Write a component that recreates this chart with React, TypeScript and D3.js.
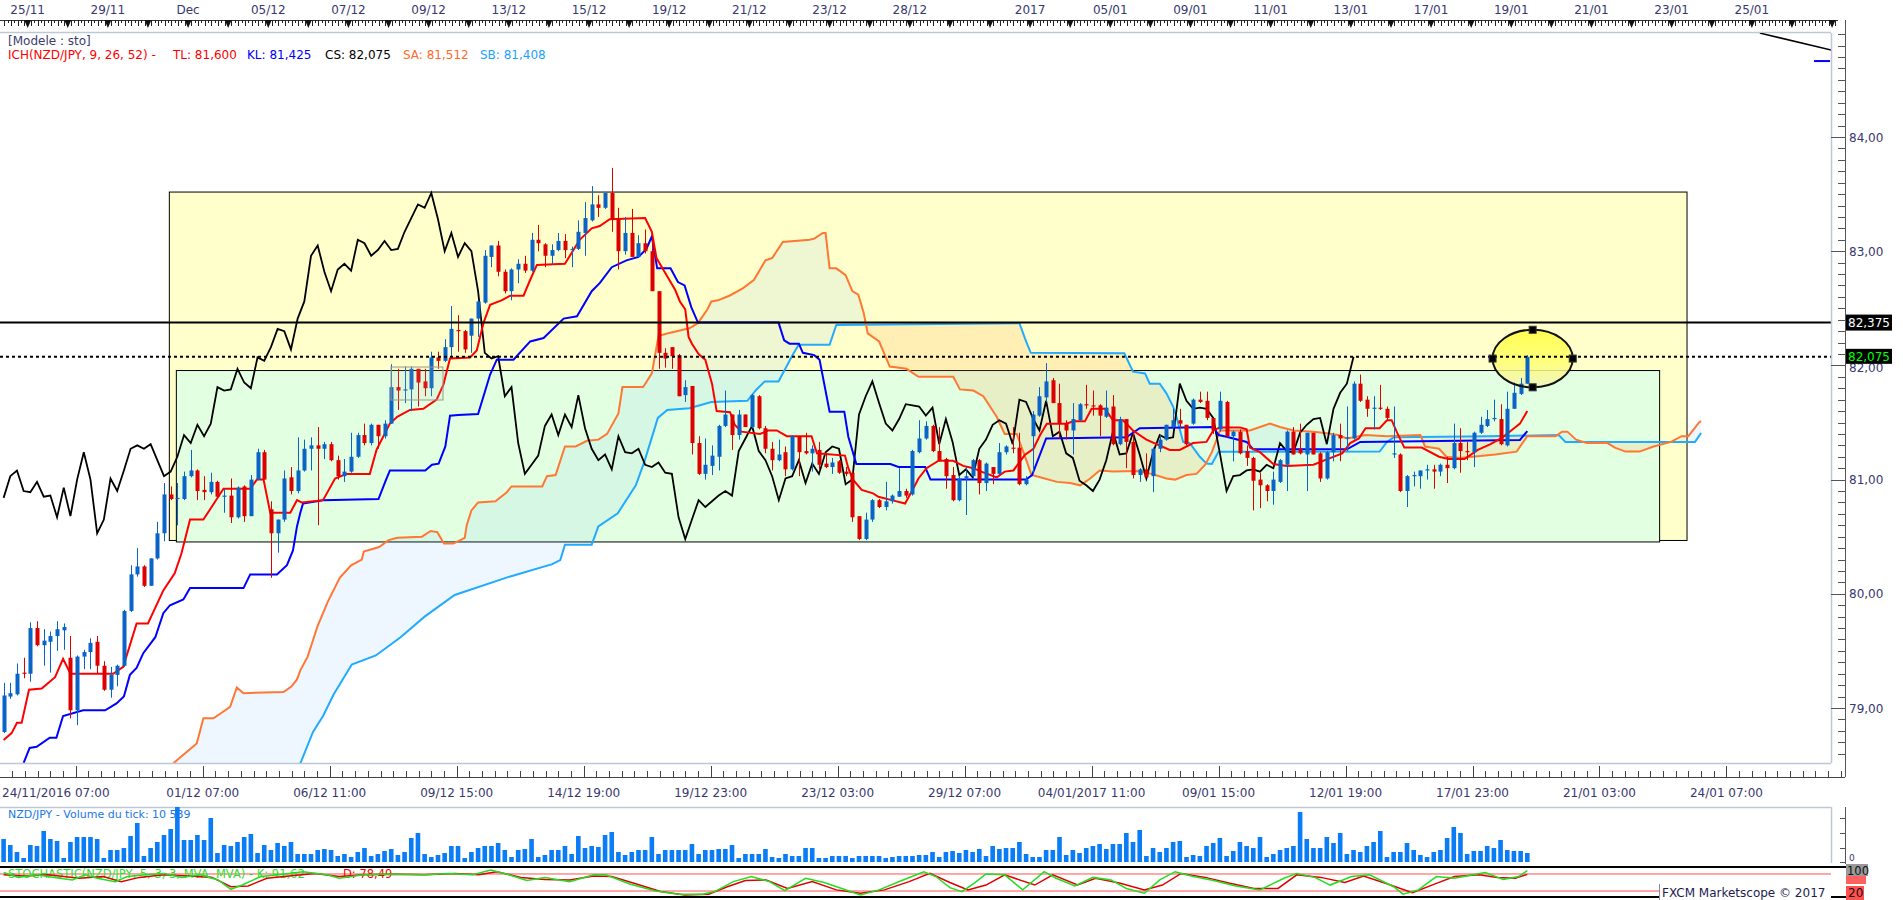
import React from "react";
import * as d3 from "d3";

// ---------- candle data (NZD/JPY, 4H) ----------
const opens = [
  78.79,79.10,79.12,79.31,79.30,79.70,79.55,79.58,79.63,79.68,
  79.44,78.98,79.45,79.49,79.58,79.37,79.16,79.29,79.37,79.85,
  80.17,80.24,80.07,80.31,80.53,80.87,80.83,80.83,81.03,81.08,
  80.91,80.89,80.98,80.85,80.86,80.67,80.94,80.68,81.00,81.24,
  80.74,80.53,80.65,81.02,80.90,81.08,81.27,81.30,81.27,81.31,
  81.17,81.03,81.07,81.20,81.39,81.32,81.48,81.38,81.49,81.81,
  81.78,81.79,81.97,81.86,81.80,82.07,82.04,82.16,82.31,82.30,
  82.26,82.41,82.55,82.95,83.05,82.82,82.65,82.84,82.89,82.83,
  83.10,83.06,82.96,83.01,83.09,83.01,83.02,83.16,83.27,83.41,
  83.38,83.51,83.28,83.00,83.16,82.95,83.07,83.00,82.65,82.11,
  82.16,82.09,81.74,81.82,81.32,81.05,81.12,81.20,81.47,81.57,
  81.39,81.57,81.46,81.73,81.45,81.27,81.17,81.24,81.09,81.38,
  81.25,81.23,81.26,81.14,81.11,81.16,81.07,81.06,80.68,80.48,
  80.65,80.82,80.76,80.81,80.85,80.90,80.87,81.24,81.36,81.47,
  81.25,81.18,81.04,80.82,81.01,81.03,81.17,80.97,81.11,81.05,
  81.24,81.28,81.28,80.96,81.38,81.56,81.72,81.87,81.67,81.49,
  81.43,81.52,81.66,81.65,81.65,81.55,81.64,81.31,81.53,81.33,
  81.04,81.09,81.03,81.27,81.35,81.46,81.52,81.48,81.49,81.70,
  81.69,81.54,81.44,81.68,81.38,81.42,81.25,81.19,81.00,80.95,
  80.90,80.98,81.13,81.42,81.27,81.22,81.41,81.23,81.01,81.24,
  81.39,81.36,81.36,81.84,81.70,81.62,81.63,81.62,81.22,81.22,
  80.90,81.03,81.03,81.08,81.09,81.07,81.13,81.10,81.32,81.25,
  81.24,81.41,81.47,81.53,81.53,81.30,81.62,81.75,81.84
];
const highs = [
  79.22,79.22,79.39,79.44,79.75,79.76,79.69,79.67,79.76,79.74,
  79.63,79.46,79.51,79.61,79.63,79.41,79.36,79.38,79.86,80.25,
  80.40,80.25,80.31,80.63,80.97,80.94,80.97,81.07,81.26,81.09,
  81.03,81.06,80.99,80.92,81.01,80.94,80.95,81.04,81.27,81.26,
  80.81,80.65,81.08,81.11,81.37,81.35,81.37,81.46,81.33,81.33,
  81.21,81.18,81.41,81.41,81.49,81.49,81.48,81.52,82.01,81.97,
  81.99,81.99,81.97,81.97,82.12,82.12,82.23,82.52,82.44,82.31,
  82.41,82.56,83.01,83.05,83.09,82.84,82.85,82.93,82.96,83.16,
  83.23,83.07,83.06,83.16,83.15,83.04,83.27,83.43,83.57,83.49,
  83.51,83.73,83.38,83.30,83.37,83.14,83.19,83.13,82.65,82.15,
  82.16,82.10,81.87,81.82,81.38,81.36,81.30,81.48,81.78,81.57,
  81.61,81.57,81.75,81.74,81.47,81.33,81.35,81.29,81.39,81.38,
  81.41,81.30,81.33,81.23,81.19,81.17,81.11,81.07,80.68,80.71,
  80.83,80.83,80.98,80.87,81.10,80.92,81.26,81.52,81.51,81.48,
  81.46,81.19,81.11,81.03,81.11,81.18,81.18,81.15,81.11,81.32,
  81.30,81.46,81.41,81.03,81.60,81.81,82.02,81.89,81.84,81.52,
  81.67,81.67,81.83,81.78,81.66,81.78,81.74,81.55,81.53,81.41,
  81.10,81.23,81.28,81.39,81.48,81.62,81.62,81.48,81.71,81.77,
  81.77,81.54,81.77,81.69,81.43,81.44,81.30,81.20,81.06,80.96,
  81.07,81.18,81.43,81.46,81.49,81.41,81.41,81.24,81.25,81.41,
  81.49,81.64,81.86,81.92,81.73,81.73,81.83,81.64,81.64,81.23,
  81.04,81.07,81.08,81.13,81.13,81.14,81.20,81.49,81.45,81.33,
  81.42,81.55,81.61,81.70,81.66,81.77,81.85,81.89,82.09
];
const lows = [
  78.78,79.08,79.11,79.26,79.23,79.54,79.37,79.31,79.50,79.51,
  78.91,78.85,79.34,79.34,79.30,79.15,79.09,79.19,79.36,79.84,
  80.15,80.06,80.07,80.30,80.46,80.82,80.60,80.82,81.02,80.82,
  80.82,80.87,80.84,80.71,80.62,80.66,80.63,80.68,81.00,81.00,
  80.14,80.36,80.63,80.87,80.88,81.07,81.08,80.60,81.18,81.16,
  81.00,80.98,81.06,81.19,81.30,81.30,81.27,81.36,81.49,81.61,
  81.67,81.60,81.64,81.73,81.73,81.97,82.03,82.08,82.12,82.11,
  82.11,82.25,82.54,82.86,82.78,82.63,82.57,82.72,82.81,82.82,
  83.00,82.86,82.88,83.00,82.94,82.86,83.01,82.96,83.26,83.30,
  83.37,83.17,82.84,82.97,82.95,82.95,82.98,82.65,81.97,81.98,
  81.97,81.73,81.68,81.22,81.04,81.00,81.04,81.08,81.46,81.26,
  81.35,81.46,81.45,81.44,81.23,81.08,81.16,81.03,81.08,81.03,
  81.22,81.07,81.08,81.10,81.05,81.05,81.03,80.63,80.47,80.47,
  80.63,80.75,80.73,80.79,80.85,80.84,80.86,81.23,81.35,81.24,
  81.16,80.92,80.81,80.81,80.69,81.00,80.87,80.90,80.96,81.04,
  81.22,81.23,80.95,80.95,81.06,81.55,81.68,81.67,81.36,81.35,
  81.22,81.51,81.62,81.56,81.38,81.54,81.30,81.30,81.10,81.01,
  80.98,81.02,80.89,81.24,81.34,81.45,81.45,81.30,81.48,81.67,
  81.52,81.40,81.42,81.37,81.16,81.22,81.12,80.73,80.75,80.81,
  80.78,80.97,80.90,81.22,81.22,80.90,81.22,80.98,81.00,81.16,
  81.16,81.25,81.35,81.68,81.55,81.44,81.61,81.52,81.19,80.89,
  80.76,80.94,80.92,81.00,80.92,81.03,80.97,81.09,81.06,81.17,
  81.11,81.40,81.46,81.51,81.30,81.29,81.62,81.74,81.84
];
const closes = [
  79.11,79.13,79.30,79.30,79.70,79.55,79.59,79.63,79.69,79.71,
  78.98,79.45,79.49,79.57,79.37,79.16,79.29,79.37,79.85,80.17,
  80.24,80.07,80.31,80.53,80.87,80.83,80.84,81.03,81.08,80.90,
  80.89,80.98,80.85,80.86,80.67,80.93,80.68,81.00,81.24,81.00,
  80.53,80.65,81.01,80.90,81.08,81.27,81.30,81.27,81.31,81.17,
  81.03,81.07,81.20,81.39,81.32,81.48,81.38,81.49,81.81,81.78,
  81.79,81.97,81.85,81.80,82.07,82.04,82.16,82.32,82.30,82.14,
  82.41,82.56,82.96,83.05,82.82,82.65,82.84,82.89,82.83,83.10,
  83.07,82.96,83.01,83.09,83.01,83.02,83.17,83.29,83.41,83.38,
  83.51,83.28,83.00,83.16,82.95,83.07,83.00,82.65,82.11,82.06,
  82.08,81.73,81.81,81.32,81.05,81.13,81.21,81.47,81.57,81.39,
  81.57,81.46,81.74,81.45,81.27,81.17,81.22,81.09,81.38,81.24,
  81.23,81.27,81.13,81.11,81.15,81.06,81.05,80.67,80.48,80.65,
  80.82,80.76,80.81,80.86,80.90,80.86,81.25,81.36,81.47,81.25,
  81.17,81.03,80.82,81.01,81.03,81.17,80.97,81.14,81.05,81.24,
  81.29,81.27,80.96,81.00,81.57,81.73,81.86,81.67,81.49,81.43,
  81.53,81.66,81.65,81.64,81.56,81.63,81.31,81.53,81.33,81.04,
  81.09,81.02,81.27,81.35,81.48,81.52,81.49,81.31,81.70,81.68,
  81.54,81.43,81.69,81.38,81.42,81.23,81.19,80.99,80.95,80.90,
  81.00,81.17,81.42,81.22,81.23,81.41,81.22,81.01,81.24,81.39,
  81.36,81.37,81.84,81.69,81.62,81.63,81.62,81.54,81.23,80.90,
  81.03,81.04,81.08,81.09,81.07,81.13,81.10,81.32,81.25,81.24,
  81.41,81.48,81.53,81.54,81.31,81.62,81.76,81.84,82.075
];
const volumes = [
  23,17,10,4,17,16,31,23,21,4,
  20,25,25,25,23,4,12,12,14,26,
  39,6,14,20,27,33,58,22,22,27,
  22,44,9,17,16,20,25,28,9,17,
  12,19,16,20,8,8,8,12,13,12,
  6,8,5,10,14,6,8,11,13,7,
  10,24,29,8,5,7,9,16,16,4,
  10,14,16,16,19,12,5,12,13,23,
  5,7,12,12,16,8,26,14,16,15,
  27,30,10,7,10,12,12,25,8,12,
  12,12,12,18,8,12,12,13,13,17,
  4,8,8,8,13,5,4,8,6,6,
  14,14,4,4,6,6,6,4,6,6,
  6,6,4,5,6,6,6,7,7,10,
  5,10,11,9,12,10,13,6,16,13,
  14,14,20,8,5,5,12,12,25,7,
  12,9,14,16,18,13,18,18,29,20,
  32,6,14,10,14,20,21,5,7,6,
  16,19,24,6,11,20,16,14,25,5,
  8,12,14,16,50,23,14,14,25,19,
  29,8,12,10,16,20,31,5,10,10,
  19,12,7,5,10,12,24,35,29,8,
  11,11,16,14,22,12,11,11,9
];

// ---------- Ichimoku lines: vertices [candle index, price] ----------
const tenkanPts = [
  [0,78.72],[1.2,78.78],[2,78.87],[2.7,78.87],[3.8,79.16],[5.7,79.17],[7.7,79.27],[8.9,79.43],[10,79.30],[16.4,79.30],
  [17.9,79.36],[19.9,79.74],[21.6,79.74],[23.9,80.03],[25.6,80.18],[26.6,80.35],[27.9,80.65],[29.9,80.65],[31.9,80.83],[32.9,80.92],
  [36.9,80.92],[37.9,81.0],[38.9,81.0],[39.9,80.71],[42.9,80.71],[43.9,80.82],[44.6,80.80],[47.8,80.82],[49.6,81.01],[51.3,81.05],
  [54.8,81.05],[55.8,81.26],[57.8,81.49],[58.9,81.55],[60.8,81.61],[62.8,81.62],[64.8,81.70],[65.8,81.83],[66.8,82.06],[69.8,82.07],
  [70.8,82.13],[71.8,82.37],[72.8,82.53],[74.5,82.57],[75.8,82.61],[77.8,82.61],[78.8,82.75],[79.8,82.88],[84,82.89],[86.2,83.10],
  [88,83.20],[89.2,83.22],[90.7,83.28],[96,83.29],[97,83.17],[97.7,82.94],[98.7,82.84],[100.5,82.66],[101.2,82.56],[102,82.49],
  [102.5,82.25],[103,82.19],[104,82.10],[105,82.05],[106,81.84],[106.7,81.60],[108.7,81.59],[109.4,81.48],[110.4,81.42],[113.2,81.40],
  [114.4,81.43],[115.7,81.43],[117.2,81.38],[120.9,81.38],[121.7,81.23],[125.9,81.21],[126.4,81.10],[127.1,81.0],[128.4,80.91],[130.1,80.88],
  [130.9,80.85],[132.9,80.82],[134.9,80.79],[136.1,80.92],[136.9,81.01],[138.1,81.10],[139.9,81.165],[142.1,81.165],[143.6,81.12],[145.1,81.10],
  [146.3,81.07],[148.6,81.02],[149.8,81.07],[151.1,81.08],[152.8,81.215],[154.1,81.27],[155.1,81.39],[156.1,81.49],[159,81.49],[160.1,81.51],
  [161.8,81.51],[162.8,81.62],[164.8,81.62],[166,81.52],[167.5,81.52],[169,81.43],[171,81.35],[174.5,81.26],[176,81.26],[178,81.32],
  [180,81.33],[181,81.43],[182,81.457],[185,81.457],[186,81.44],[186.5,81.28],[188,81.24],[190,81.136],[192,81.12],[196,81.13],
  [198,81.177],[200.3,81.23],[201.5,81.32],[202.8,81.36],[203.8,81.45],[205.9,81.45],[207,81.52],[207.7,81.52],[208.6,81.40],[209.6,81.28],
  [212.2,81.28],[214.8,81.20],[216.2,81.18],[218.6,81.18],[220.6,81.26],[222.5,81.31],[224.3,81.37],[225.6,81.43],[226.9,81.49],[228,81.60]
];
const kijunPts = [
  [3,78.52],[3.9,78.65],[4.95,78.66],[6.9,78.74],[7.9,78.74],[8.9,78.93],[11.9,78.98],[15.2,78.98],[16.9,79.04],[18,79.10],
  [18.9,79.29],[19.9,79.35],[20.9,79.48],[22.7,79.62],[23.9,79.83],[24.9,79.90],[26.9,79.95],[27.9,80.05],[35.9,80.05],[36.9,80.17],
  [40.9,80.17],[42.4,80.25],[43.3,80.38],[43.9,80.59],[44.4,80.71],[44.8,80.79],[47.8,80.82],[56.1,80.83],[57.1,80.98],[57.8,81.08],
  [63.1,81.08],[64.1,81.13],[65.1,81.14],[66.1,81.29],[66.8,81.56],[68,81.565],[71,81.575],[72.8,81.92],[73.8,82.05],[76.3,82.05],
  [78.8,82.21],[80.8,82.24],[83.8,82.41],[85.8,82.43],[88,82.65],[89.2,82.72],[91,82.86],[93.2,82.92],[95,82.95],[96.2,83.02],
  [97,83.13],[97.8,82.85],[99.8,82.85],[100.9,82.73],[101.9,82.70],[102.9,82.51],[103.9,82.375],[115.96,82.375],[116.8,82.22],[117.6,82.19],
  [119,82.19],[119.6,82.11],[121.3,82.09],[122.1,82.05],[123.6,81.595],[125.8,81.595],[126.4,81.375],[127.6,81.137],[132.7,81.137],[133.9,81.11],
  [137.9,81.11],[138.7,81.0],[153,81.0],[153.9,81.04],[156,81.36],[168,81.37],[170,81.45],[181,81.46],[181.8,81.39],[183,81.375],
  [186,81.33],[187,81.265],[201,81.265],[203,81.33],[226.9,81.347],[228,81.425]
];
const senkouAPts = [
  [25.4,78.516],[26.9,78.59],[28.9,78.69],[29.9,78.91],[31.4,78.91],[32.4,78.95],[33.9,79.01],[34.9,79.18],[35.9,79.13],[41.9,79.14],
  [43.1,79.19],[43.9,79.25],[44.4,79.33],[45.5,79.45],[47,79.72],[48.5,79.93],[50.3,80.14],[52,80.25],[53.6,80.30],[53.9,80.37],
  [56.2,80.41],[57.6,80.47],[58.9,80.49],[62.6,80.50],[63.9,80.55],[64.9,80.54],[65.9,80.44],[67.3,80.44],[69,80.49],[69.3,80.60],
  [70,80.73],[71,80.80],[73.6,80.81],[75.3,80.89],[76,80.94],[80.6,80.94],[81.3,81.03],[82.6,81.04],[84,81.29],[85.6,81.29],
  [87.3,81.34],[89,81.35],[90.3,81.40],[92,81.58],[92.6,81.81],[95.7,81.81],[97,81.93],[98,82.26],[99.3,82.28],[102.6,82.325],
  [103.9,82.37],[105.3,82.49],[105.9,82.56],[106.9,82.57],[108.6,82.61],[110.6,82.675],[112.3,82.75],[114,82.92],[115,82.94],[116.6,83.08],
  [120.6,83.10],[121.3,83.11],[122.6,83.16],[123,83.16],[123.6,82.85],[124.6,82.85],[126,82.79],[127,82.65],[127.9,82.62],[128.7,82.46],
  [129.3,82.28],[131,82.21],[132.6,81.99],[135.1,81.97],[136.9,81.90],[142.1,81.90],[143.1,81.79],[145.1,81.78],[146.6,81.73],[148.6,81.55],
  [149.8,81.40],[151.6,81.40],[153.1,81.16],[153.8,81.04],[155.1,81.02],[157.6,80.98],[159.6,80.97],[161.1,80.95],[162.6,81.01],[164,81.08],
  [166,81.07],[169.5,81.075],[171.8,81.05],[174,81.01],[175.3,81.0],[177,81.04],[178.5,81.05],[179.8,81.13],[180.8,81.24],[181.5,81.35],
  [182,81.43],[186.5,81.43],[188,81.46],[189.5,81.49],[191,81.46],[193,81.43],[196,81.42],[198,81.405],[199.7,81.39],[201,81.36],
  [203.8,81.39],[207,81.38],[212,81.39],[212.7,81.29],[214.8,81.27],[215.9,81.20],[218,81.19],[223.2,81.22],[226.4,81.245],[228,81.38],
  [232.2,81.38],[233.2,81.42],[234,81.42],[235.3,81.35],[236.9,81.32],[240,81.32],[241.1,81.28],[242.7,81.245],[244.8,81.245],[246.9,81.29],
  [249.5,81.33],[251.1,81.38],[252.1,81.38],[253.7,81.50],[254,81.512]
];
const senkouBPts = [
  [44.3,78.50],[46.3,78.79],[47.8,78.93],[49.4,79.12],[52.1,79.38],[55.7,79.46],[59.4,79.62],[63,79.80],[67.5,79.99],[75.7,80.15],
  [82.1,80.26],[83.3,80.295],[84,80.43],[88,80.43],[89,80.59],[91.9,80.705],[94.6,80.95],[95.9,81.16],[97.9,81.54],[99.3,81.61],
  [102.6,81.625],[105.9,81.68],[111.3,81.69],[112.6,81.785],[113.9,81.86],[115.96,81.86],[117.96,82.08],[118.97,82.18],[123.6,82.18],[124.6,82.354],
  [152,82.37],[153,82.21],[153.7,82.11],[167.7,82.106],[169,81.945],[170.8,81.93],[171.5,81.84],[173,81.84],[174,81.755],[175,81.64],
  [175.5,81.55],[176.5,81.33],[177.5,81.32],[179,81.20],[180,81.14],[180.8,81.136],[181.8,81.244],[205.9,81.245],[207,81.33],[208,81.37],
  [222.2,81.38],[232.7,81.39],[233.7,81.33],[253.1,81.33],[254,81.408]
];

// ---------- Stochastic (5,3,3) vertices [index, value] ----------
const stochK = [
  [0,85],[2.2,68],[4.9,77],[7.6,68],[10.3,59],[12.2,77],[14,65],[16.7,53],[18.5,71],[21.2,77],[24,82],[26.7,68],[29.4,77],[32.1,59],
  [34,26],[35.7,41],[38.5,71],[41.2,77],[44.8,88],[48.4,77],[50.2,65],[53.9,77],[57.5,80],[63,77],[66.5,82],[70.2,77],[72.9,94],
  [75.6,77],[78.3,57],[81,68],[84.7,53],[88.3,77],[90.1,77],[93.7,45],[97.4,21],[101,9],[104.6,9],[106.4,18],[109.2,53],[111.9,71],
  [114.6,53],[116.9,21],[120,65],[122.8,50],[126.4,21],[128.2,6],[131,24],[134.6,59],[137.7,88],[139.5,71],[141.6,32],[143.4,18],
  [145.2,47],[147,80],[149.8,77],[152.5,24],[155.7,88],[157.5,65],[160.3,38],[163,68],[165.7,59],[168,29],[170.7,12],[173,59],
  [175.3,88],[178,71],[180.7,59],[184.4,38],[188,24],[191.6,65],[193.5,82],[196.2,68],[198.5,41],[201.7,71],[204.4,77],[208,35],
  [209.4,9],[211.7,24],[214.4,71],[217.1,65],[219.9,77],[221.7,85],[224.4,61],[226.7,71],[228,91.62]
];
const stochD = [
  [0,77],[3.1,73],[6.7,77],[11.3,65],[14.9,71],[17.6,53],[20.3,68],[24,77],[27.6,73],[31.2,68],[34,35],[36.6,38],[39.4,65],[43,74],
  [46.6,82],[50.2,71],[53.9,77],[58.4,79],[63,77],[67.5,82],[71.1,77],[73.8,88],[77.4,68],[81,61],[84.7,59],[88.3,73],[91,71],
  [94.7,45],[98.3,18],[101.9,6],[105.5,9],[108.3,35],[111,57],[114.1,59],[117.3,29],[121,53],[124.6,24],[128.2,12],[131.8,24],
  [135.5,53],[138.6,82],[141.6,50],[144.3,24],[147,41],[149.8,77],[154.3,41],[157,77],[160.7,41],[163.4,65],[167.1,47],[170.7,24],
  [173.4,41],[176.2,82],[179.8,68],[183.5,47],[187.1,29],[190.7,29],[193.5,77],[197.1,68],[200.7,50],[203.5,73],[207.1,45],[210.8,14],
  [214.4,47],[217.1,71],[220.8,77],[223.5,68],[226.2,65],[228,78.49]
];

// ---------- axis labels ----------
const topDayIdx = [0,2,4,6,8,10,12,14,16,18,20,22,25,27,29,31,33,35,37,39,41,43];
const topLabels = ["25/11","29/11","Dec","05/12","07/12","09/12","13/12","15/12","19/12","21/12","23/12","28/12","2017","05/01","09/01","11/01","13/01","17/01","19/01","21/01","23/01","25/01"];
const bottomLabels = ["01/12 07:00","06/12 11:00","09/12 15:00","14/12 19:00","19/12 23:00","23/12 03:00","29/12 07:00","04/01/2017 11:00","09/01 15:00","12/01 19:00","17/01 23:00","21/01 03:00","24/01 07:00"];
const priceTicks = [79, 80, 81, 82, 83, 84];

// ---------- drawn annotations ----------
const yellowBox = { i0: 24.8, i1: 251.9, top: 83.518, bottom: 80.467 };
const greenBox = { i0: 25.85, i1: 247.8, top: 81.955, bottom: 80.454 };
const grayBox = { i0: 57.97, i1: 65.75, top: 81.986, bottom: 81.697 };
const ellipseAnn = { i: 228.8, v: 82.06, di: 6.0, dv: 0.252 };
const hLineSolid = 82.375;
const hLineDotted = 82.075;
const trendSeg = [[262.8, 84.91], [273.6, 84.76]];
const blueSeg = [[270.9, 84.665], [273.3, 84.665]];

const FONT = '"DejaVu Sans", Verdana, sans-serif';
const AXC = "#38386e";

export default function App() {
  const W = 1903, H = 900;
  const PR = 1831, PT = 33, PB = 763;
  const x = d3.scaleLinear().domain([0, 228]).range([3.6, 1527.3]);
  const y = d3.scaleLinear().domain([79, 84]).range([708, 137]);
  const yVol = d3.scaleLinear().domain([0, 56]).range([862, 806]);
  const ySto = d3.scaleLinear().domain([0, 100]).range([896.7, 868.3]);

  const line = d3.line<number[]>().x(d => x(d[0])).y(d => y(d[1]));
  const lineSto = d3.line<number[]>().x(d => x(d[0])).y(d => ySto(d[1]));
  const chikou = closes.map((c, i) => [i - 26, c]).filter(d => d[0] >= 0);

  const pts = (arr: number[][]) => arr.map(d => `${x(d[0]).toFixed(2)},${y(d[1]).toFixed(2)}`).join(" L ");
  const aF = x(senkouAPts[0][0]), aL = x(senkouAPts[senkouAPts.length - 1][0]);
  const bF = x(senkouBPts[0][0]), bL = x(senkouBPts[senkouBPts.length - 1][0]);
  const belowA = `M ${aF},2000 L ${pts(senkouAPts)} L ${aL},2000 Z`;
  const aboveA = `M ${aF},-1000 L ${pts(senkouAPts)} L ${aL},-1000 Z`;
  const aboveB = `M ${aF},-1000 L ${aF},2000 L ${bF},2000 L ${pts(senkouBPts)} L ${bL},-1000 Z`;
  const belowB = `M ${bF},2000 L ${pts(senkouBPts)} L ${bL},2000 Z`;

  const topTicks: JSX.Element[] = [];
  for (let m = 0; m < 550; m++) {
    const idx = 0.1 + m * 0.5;
    const xx = x(idx);
    if (xx > 1837) break;
    const long = m % 2 === 0;
    topTicks.push(<line key={"tt" + m} x1={Math.round(xx) + 0.5} x2={Math.round(xx) + 0.5} y1={20} y2={long ? 26 : 23} stroke="#222" strokeWidth={1} />);
  }
  const triangles: JSX.Element[] = [];
  for (let k = 0; k <= 45; k++) {
    const xx = x(3.6 + 6 * k);
    triangles.push(<path key={"tr" + k} d={`M ${xx - 3.5},20 L ${xx + 3.5},20 L ${xx},28 Z`} fill="#111" />);
  }

  const botTicks: JSX.Element[] = [];
  for (let m = -5; m <= 140; m++) {
    const idx = 10.8 + 1.9 * m;
    const xx = x(idx);
    if (xx < 0 || xx > 1845) continue;
    const major = m % 10 === 0;
    botTicks.push(<line key={"bt" + m} x1={Math.round(xx) + 0.5} x2={Math.round(xx) + 0.5} y1={major ? 766 : 771} y2={777} stroke="#444" strokeWidth={1} />);
  }

  const priceMinor: JSX.Element[] = [];
  for (let k = 786; k <= 849; k++) {
    const v = k / 10;
    const yy = Math.round(y(v)) + 0.5;
    if (yy < PT || yy > PB) continue;
    const major = k % 10 === 0;
    priceMinor.push(<line key={"pm" + k} x1={major ? 1831 : 1838} x2={1845} y1={yy} y2={yy} stroke="#555" strokeWidth={1} />);
  }

  const candleEls = opens.map((o, i) => {
    const c = closes[i], h = highs[i], l = lows[i];
    const up = c >= o;
    const col = up ? "#0a64c8" : "#dc0000";
    const cx = Math.round(x(i));
    const yTop = y(Math.max(o, c)), yBot = y(Math.min(o, c));
    const bh = Math.max(1.2, yBot - yTop);
    return (
      <g key={"c" + i}>
        <line x1={cx + 0.5} x2={cx + 0.5} y1={y(h)} y2={y(l)} stroke={col} strokeWidth={1} />
        <rect x={cx - 1.5} y={yTop} width={4} height={bh} fill={col} />
      </g>
    );
  });

  const volEls = volumes.map((v, i) => (
    <rect key={"v" + i} x={x(i) - 2.3} y={yVol(v)} width={4.6} height={862 - yVol(v)} fill="#0a7cf5" />
  ));

  const ex = x(ellipseAnn.i), ey = y(ellipseAnn.v);
  const erx = x(ellipseAnn.i + ellipseAnn.di) - ex, ery = y(ellipseAnn.v - ellipseAnn.dv) - ey;
  const handles = [[ex, ey - ery], [ex, ey + ery], [ex - erx, ey], [ex + erx, ey]];

  const fmt = (v: number, d: number) => v.toFixed(d).replace(".", ",");

  return (
    <svg width={W} height={H} style={{ position: "fixed", left: 0, top: 0, background: "#fff" }} fontFamily={FONT}>
      <defs>
        <clipPath id="cMain"><rect x={0} y={PT} width={PR} height={PB - PT} /></clipPath>
        <clipPath id="cVol"><rect x={0} y={807} width={PR} height={56} /></clipPath>
        <clipPath id="cBelowA"><path d={belowA} /></clipPath>
        <clipPath id="cAboveA"><path d={aboveA} /></clipPath>
        <linearGradient id="ellG" x1="0" y1="0" x2="0" y2="1">
          <stop offset="0" stopColor="#ffff3a" />
          <stop offset="0.55" stopColor="#ffff70" />
          <stop offset="1" stopColor="#f2f2b8" />
        </linearGradient>
      </defs>
      <rect x={0} y={0} width={W} height={H} fill="#fff" />

      {/* top time axis */}
      <line x1={0} x2={1838} y1={20.5} y2={20.5} stroke="#333" strokeWidth={1} />
      {topTicks}
      {triangles}
      {topLabels.map((t, k) => (
        <text key={"tl" + k} x={x(3.6 + 6 * topDayIdx[k])} y={14} textAnchor="middle" fontSize={12} fill={AXC}>{t}</text>
      ))}
      <line x1={0} x2={PR} y1={32.5} y2={32.5} stroke="#bcc8d6" strokeWidth={1.5} />

      {/* main panel */}
      <g clipPath="url(#cMain)">
        <rect x={x(yellowBox.i0)} y={y(yellowBox.top)} width={x(yellowBox.i1) - x(yellowBox.i0)} height={y(yellowBox.bottom) - y(yellowBox.top)} fill="#ffffcc" stroke="#000" strokeWidth={1} />
        <rect x={x(greenBox.i0)} y={y(greenBox.top)} width={x(greenBox.i1) - x(greenBox.i0)} height={y(greenBox.bottom) - y(greenBox.top)} fill="#e3ffe1" stroke="#000" strokeWidth={1} />
        <g clipPath="url(#cBelowA)"><path d={aboveB} fill="rgba(100,185,255,0.11)" /></g>
        <g clipPath="url(#cAboveA)"><path d={belowB} fill="rgba(255,150,50,0.15)" /></g>

        <path d={line(senkouBPts) || ""} fill="none" stroke="#22aaff" strokeWidth={2} />
        <path d={line(senkouAPts) || ""} fill="none" stroke="#ff7733" strokeWidth={2} />
        <path d={line(chikou) || ""} fill="none" stroke="#000" strokeWidth={1.8} />
        <path d={line(kijunPts) || ""} fill="none" stroke="#0000ff" strokeWidth={2} />
        <path d={line(tenkanPts) || ""} fill="none" stroke="#ff0000" strokeWidth={2} />

        <ellipse cx={ex} cy={ey} rx={erx} ry={ery} fill="url(#ellG)" fillOpacity={0.85} stroke="none" />
        {candleEls}
        <rect x={x(grayBox.i0)} y={y(grayBox.top)} width={x(grayBox.i1) - x(grayBox.i0)} height={y(grayBox.bottom) - y(grayBox.top)} fill="rgba(200,200,180,0.12)" stroke="#9a9a8a" strokeWidth={1} />

        <line x1={0} x2={PR} y1={y(hLineSolid)} y2={y(hLineSolid)} stroke="#000" strokeWidth={2} />
        <line x1={0} x2={PR} y1={y(hLineDotted)} y2={y(hLineDotted)} stroke="#000" strokeWidth={2} strokeDasharray="3,3" />
        <ellipse cx={ex} cy={ey} rx={erx} ry={ery} fill="none" stroke="#111" strokeWidth={2} />
        {handles.map((p, k) => (
          <rect key={"h" + k} x={p[0] - 3.5} y={p[1] - 3.5} width={7} height={7} fill="#000" stroke="#334" strokeWidth={1} />
        ))}
        <path d={line(trendSeg) || ""} fill="none" stroke="#000" strokeWidth={1.5} />
        <path d={line(blueSeg) || ""} fill="none" stroke="#0000ff" strokeWidth={2} />
      </g>
      <line x1={PR + 0.5} x2={PR + 0.5} y1={PT} y2={PB} stroke="#bcc8d6" strokeWidth={1.5} />
      <line x1={0} x2={PR} y1={PB + 0.5} y2={PB + 0.5} stroke="#bcc8d6" strokeWidth={1.5} />

      {/* legend */}
      <text x={8} y={45} fontSize={12} fill="#3c3c6c">[Modele : sto]</text>
      <text y={59} fontSize={12}>
        <tspan x={8} fill="#ff0000">ICH(NZD/JPY, 9, 26, 52) -</tspan>
        <tspan x={173} fill="#ff0000">{"TL: " + fmt(81.6, 3)}</tspan>
        <tspan x={247} fill="#0000ff">{"KL: " + fmt(81.425, 3)}</tspan>
        <tspan x={325} fill="#000">{"CS: " + fmt(82.075, 3)}</tspan>
        <tspan x={403} fill="#ff6a2a">{"SA: " + fmt(81.512, 3)}</tspan>
        <tspan x={480} fill="#1aa3ff">{"SB: " + fmt(81.408, 3)}</tspan>
      </text>

      {/* right price axis */}
      <line x1={1845.5} x2={1845.5} y1={20} y2={777} stroke="#555" strokeWidth={1} />
      {priceMinor}
      {priceTicks.map(v => (
        <text key={"pl" + v} x={1849} y={v === 82 ? y(v) + 7 : y(v) + 4.5} fontSize={12} fill={AXC}>{fmt(v, 2)}</text>
      ))}
      <rect x={1846} y={y(hLineSolid) - 8} width={46} height={16} fill="#000" />
      <text x={1848} y={y(hLineSolid) + 4.5} fontSize={12} fill="#fff">{fmt(hLineSolid, 3)}</text>
      <rect x={1846} y={y(hLineDotted) - 8} width={46} height={15} fill="#000" />
      <text x={1848} y={y(hLineDotted) + 4} fontSize={12} fill="#00ff00">{fmt(hLineDotted, 3)}</text>

      {/* bottom time axis */}
      <line x1={0} x2={1845} y1={777.5} y2={777.5} stroke="#444" strokeWidth={1} />
      {botTicks}
      <text x={2} y={797} fontSize={12} fill={AXC}>24/11/2016 07:00</text>
      {bottomLabels.map((t, k) => (
        <text key={"bl" + k} x={x(10.8 + 19 * (k + 1))} y={797} textAnchor="middle" fontSize={12} fill={AXC}>{t}</text>
      ))}

      {/* volume panel */}
      <line x1={0} x2={PR} y1={807.5} y2={807.5} stroke="#bcc8d6" strokeWidth={1.5} />
      <line x1={PR + 0.5} x2={PR + 0.5} y1={807} y2={863} stroke="#bcc8d6" strokeWidth={1.5} />
      <g clipPath="url(#cVol)">{volEls}</g>
      <text x={8} y={818} fontSize={11} fill="#1a78e6">NZD/JPY - Volume du tick: 10 539</text>
      <line x1={1845.5} x2={1845.5} y1={807} y2={864} stroke="#555" strokeWidth={1} />
      {[818, 833, 848, 862].map(v => (
        <line key={"vt" + v} x1={1840} x2={1845} y1={v + 0.5} y2={v + 0.5} stroke="#555" strokeWidth={1} />
      ))}
      <text x={1849} y={861} fontSize={9} fill={AXC}>0</text>

      {/* stochastic panel */}
      <line x1={0} x2={1847} y1={867} y2={867} stroke="#000" strokeWidth={2} />
      <line x1={0} x2={1847} y1={897} y2={897} stroke="#000" strokeWidth={2} />
      <line x1={0} x2={PR} y1={ySto(80)} y2={ySto(80)} stroke="#ff5050" strokeWidth={1} />
      <line x1={0} x2={PR} y1={ySto(20)} y2={ySto(20)} stroke="#ff5050" strokeWidth={1} />
      <text x={8} y={878} fontSize={11.5}>
        <tspan fill="#2ee02e">STOCHASTIC(NZD/JPY, 5, 3, 3, MVA, MVA) -  K: 91,62</tspan>
        <tspan x={343} fill="#ff0000">D: 78,49</tspan>
      </text>
      <path d={lineSto(stochD) || ""} fill="none" stroke="#e00000" strokeWidth={1.5} />
      <path d={lineSto(stochK) || ""} fill="none" stroke="#22dd22" strokeWidth={1.5} />
      <rect x={1846} y={875} width={20} height={9} fill="#ff6060" />
      <rect x={1846} y={864} width={22} height={12} fill="#9a9a9a" />
      <text x={1847} y={875} fontSize={11.5} fill="#111">100</text>
      <rect x={1846} y={886} width={18} height={14} fill="#ff5050" />
      <text x={1848} y={897} fontSize={12} fill="#111">20</text>
      <rect x={1659} y={884} width={172} height={15} fill="#fff" />
      <line x1={1659.5} x2={1659.5} y1={884} y2={900} stroke="#8a8aa0" strokeWidth={1} />
      <text x={1662} y={897} fontSize={12} fill="#1c1c50">FXCM Marketscope © 2017</text>
    </svg>
  );
}
